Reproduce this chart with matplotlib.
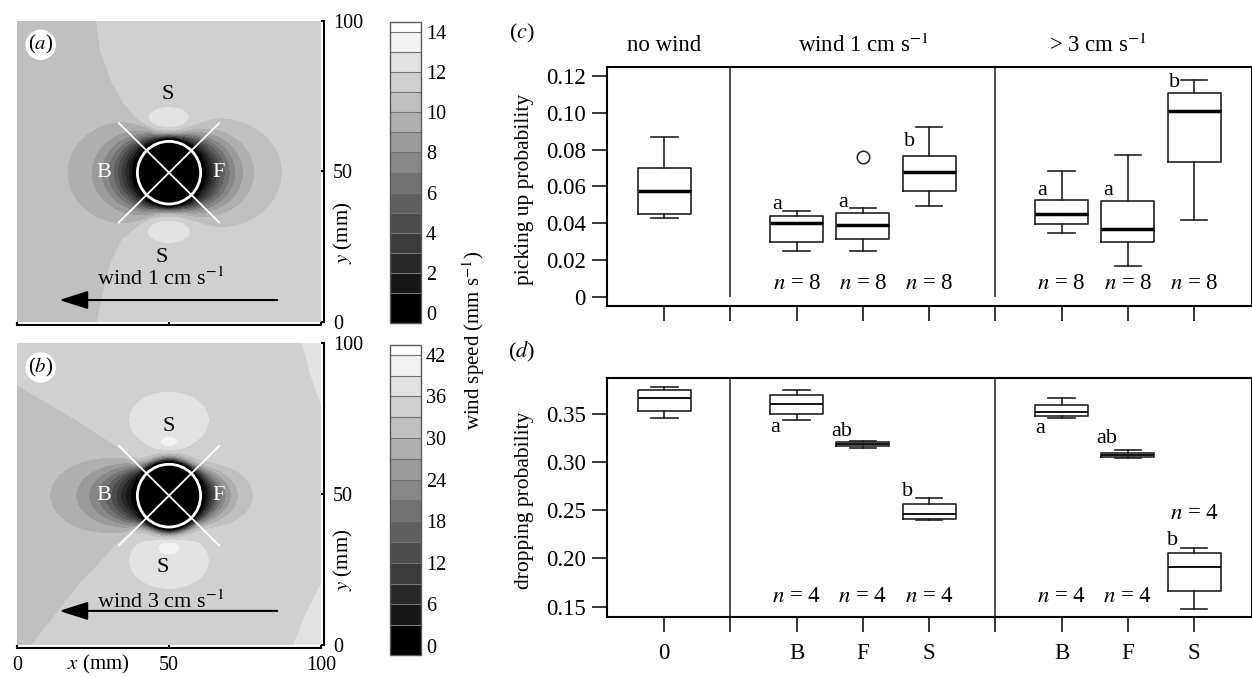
import numpy as np
import matplotlib
matplotlib.use("Agg")
import matplotlib.pyplot as plt
from matplotlib.patches import Circle

plt.rcParams["font.family"] = ["Liberation Serif", "DejaVu Serif"]
plt.rcParams["mathtext.fontset"] = "stix"

# ---- panels (a), (b): wind speed maps (feature positions, mm) ----
centre = (50.0, 49.5)
radius = 10.4

lev_a = [-0.5] + list(range(1, 15)) + [14.5]
lev_b = [-1.3] + list(range(3, 43, 3)) + [43.4]
band_gray = [0, 22, 40, 58, 75, 95, 115, 135, 155, 175, 192, 208, 226, 242, 255]
ticks_a = [0, 2, 4, 6, 8, 10, 12, 14]
ticks_b = [0, 6, 12, 18, 24, 30, 36, 42]

# background speed, wake deficit, front/back/side decay lengths
field_a = dict(u_bg=11.3, wake=1.0, lx_back=10.5, lx_front=12.0, ly=2.0, n=2.2,
               lobe_y=[67.3, 30.2], lobe_w=(7.5, 4.2), lobe_amp=1.6,
               spot_y=[], spot_w=(4, 2.2), spot_amp=0.0, strip=0.0)
field_b = dict(u_bg=34.5, wake=3.0, lx_back=15.0, lx_front=8.6, ly=2.0, n=6,
               lobe_y=[74.5, 28.0], lobe_w=(14.0, 10.0), lobe_amp=3.5,
               spot_y=[67.0, 32.6], spot_w=(4.0, 2.2), spot_amp=3.8, strip=3.0)
# wake boundary (x of edge for each y)
wake_a_y = [0, 10, 20, 27, 32, 35, 50, 64, 67, 72, 80, 90, 100]
wake_a_x = [26, 28, 30.5, 34, 40, 45, 46, 45, 40, 35, 30.6, 27, 25.6]
wake_b_y = [0, 20, 37, 50, 63.5, 75, 85.7, 100]
wake_b_x = [5, 20.5, 37, 40, 37, 19, 1, -20]
strip_b_y = [0, 10, 20, 25, 75, 80, 90, 100]
strip_b_x = [91, 95, 100, 105, 105, 100, 96.5, 94]

# ---- panels (c), (d): box plots ----
box_pos = [1, 3, 4, 5, 7, 8, 9]
xtick_pos = [1, 2, 3, 4, 5, 6, 7, 8, 9]
xtick_lab = ["0", "", "B", "F", "S", "", "B", "F", "S"]
dividers = [2, 6]

pick_whislo = [0.0427, 0.0250, 0.0248, 0.0491, 0.0349, 0.0167, 0.0416]
pick_q1 = [0.0451, 0.0295, 0.0315, 0.0575, 0.0396, 0.0296, 0.0730]
pick_med = [0.0574, 0.0402, 0.0388, 0.0678, 0.0452, 0.0371, 0.1007]
pick_q3 = [0.0700, 0.0440, 0.0455, 0.0767, 0.0525, 0.0520, 0.1106]
pick_whishi = [0.0866, 0.0468, 0.0480, 0.0923, 0.0685, 0.0771, 0.1176]
pick_fliers = [[], [], [0.0761], [], [], [], []]
pick_letters = ["", "a", "a", "b", "a", "a", "b"]
pick_letter_y = [0, 0.050, 0.051, 0.0845, 0.058, 0.058, 0.1163]
pick_n = ["", "8", "8", "8", "8", "8", "8"]
pick_n_y = [0, 0.0073, 0.0073, 0.0073, 0.0073, 0.0073, 0.0073]

drop_whislo = [0.3454, 0.3437, 0.3143, 0.2396, 0.3457, 0.3039, 0.1479]
drop_q1 = [0.3533, 0.3502, 0.3167, 0.2413, 0.3478, 0.3056, 0.1660]
drop_med = [0.3662, 0.3606, 0.3188, 0.2465, 0.3520, 0.3077, 0.1915]
drop_q3 = [0.3745, 0.3693, 0.3205, 0.2565, 0.3595, 0.3098, 0.2054]
drop_whishi = [0.3776, 0.3748, 0.3216, 0.2631, 0.3665, 0.3122, 0.2112]
drop_letters = ["", "a", "ab", "b", "a", "ab", "b"]
drop_letter_y = [0, 0.3361, 0.3316, 0.2693, 0.335, 0.3247, 0.2185]
drop_n = ["", "4", "4", "4", "4", "4", "4"]
drop_n_y = [0, 0.1604, 0.1604, 0.1604, 0.1604, 0.1604, 0.2469]

headers = ["no wind", "wind 1 cm s$^{-1}$", "> 3 cm s$^{-1}$"]
header_x = [1.0, 4.0, 7.55]

W, H = 1252, 677


def fig_rect(x0, y0, x1, y1):
    return [x0 / W, 1 - y1 / H, (x1 - x0) / W, (y1 - y0) / H]


def wind_field(X, Y, p, wake_y, wake_x):
    dx = X - centre[0]
    dy = Y - centre[1]
    r = np.hypot(dx, dy) + 1e-9
    cos_t = np.abs(dx) / r
    lx = np.where(dx < 0, p["lx_back"], p["lx_front"])
    L = p["ly"] + (lx - p["ly"]) * cos_t ** p["n"]
    s = r - radius
    f = np.tanh(np.clip(s - 1.0, 0, None) / L)
    xb = np.interp(Y, wake_y, wake_x)
    base = p["u_bg"] - p["wake"] / (1 + np.exp((X - xb) / 0.6))
    for ly in p["lobe_y"]:
        base = base + p["lobe_amp"] * np.exp(-((X - centre[0]) / p["lobe_w"][0]) ** 2
                                             - ((Y - ly) / p["lobe_w"][1]) ** 2)
    for ly in p["spot_y"]:
        base = base + p["spot_amp"] * np.exp(-((X - centre[0]) / p["spot_w"][0]) ** 2
                                             - ((Y - ly) / p["spot_w"][1]) ** 2)
    if p["strip"]:
        xs = np.interp(Y, strip_b_y, strip_b_x)
        base = base + p["strip"] / (1 + np.exp((xs - X) / 0.6))
    return base * f


fig = plt.figure(figsize=(12.52, 6.77), dpi=100)

g = np.linspace(0, 100, 500)
X, Y = np.meshgrid(g, g)
band_colors = [str(v / 255) for v in band_gray]

maps = [
    (fig_rect(17, 20.7, 321, 321.7), field_a, wake_a_y, wake_a_x, lev_a, ticks_a,
     fig_rect(390, 21.7, 420.5, 323.3), "($a$)", "wind 1 cm s$^{-1}$", 7.2,
     [(49.5, 75.5), (47.6, 21.2)], 233),
    (fig_rect(17, 343.3, 321, 645), field_b, wake_b_y, wake_b_x, lev_b, ticks_b,
     fig_rect(390, 345, 420.5, 655), "($b$)", "wind 3 cm s$^{-1}$", 11.3,
     [(49.8, 72.4), (47.8, 25.8)], 560),
]

for i, (rect, p, wy, wx, lev, cticks, crect, tag, wtxt, arrow_y, s_pos, ylab_y) in enumerate(maps):
    ax = fig.add_axes(rect)
    Z = wind_field(X, Y, p, wy, wx)
    Z = np.clip(Z, lev[0] + 1e-3, lev[-1] - 1e-3)
    cs = ax.contourf(X, Y, Z, levels=lev, colors=band_colors)
    ax.set_xlim(0, 100)
    ax.set_ylim(0, 100)
    for sp in ["top", "left"]:
        ax.spines[sp].set_visible(False)
    for sp in ["right", "bottom"]:
        ax.spines[sp].set_position(("outward", 2.5))
        ax.spines[sp].set_linewidth(1.5)
    ax.yaxis.tick_right()
    ax.set_yticks([0, 50, 100])
    ax.set_xticks([0, 50, 100])
    ax.tick_params(direction="in", length=2.5, width=1.5, labelsize=14.5)
    ax.tick_params(axis="y", pad=6)
    ax.tick_params(axis="x", pad=5.5)
    if i == 0:
        ax.tick_params(axis="x", labelbottom=False)

    ax.add_patch(Circle(centre, radius, fill=False, ec="white", lw=2))
    d = 16.5
    ax.plot([centre[0] - d, centre[0] + d], [centre[1] - d, centre[1] + d], color="white", lw=1.3)
    ax.plot([centre[0] - d, centre[0] + d], [centre[1] + d, centre[1] - d], color="white", lw=1.3)
    ax.text(28.4, 49.5, "B", color="white", fontsize=16, ha="center", va="center")
    ax.text(66.2, 49.5, "F", color="white", fontsize=16, ha="center", va="center")
    for sx, sy in s_pos:
        ax.text(sx, sy, "S", fontsize=16, ha="center", va="center")
    ax.text(47.3, 14.3, wtxt, fontsize=16, ha="center", va="center")
    ax.annotate("", xy=(13, arrow_y), xytext=(86.5, arrow_y),
                arrowprops=dict(arrowstyle="-|>,head_length=1.1,head_width=0.35",
                                mutation_scale=16, lw=1.5, color="black"))
    ax.text(7.8, 92.0, tag, fontsize=15, ha="center", va="center",
            bbox=dict(boxstyle="circle,pad=0.12", fc="white", ec="none"))
    fig.text(343 / W, 1 - ylab_y / H, "$y$ (mm)", rotation=90, fontsize=15,
             ha="center", va="center")

    cax = fig.add_axes(crect)
    cb = fig.colorbar(cs, cax=cax, spacing="proportional", ticks=cticks, drawedges=True)
    cb.dividers.set_color("0.45")
    cb.dividers.set_linewidth(0.8)
    cb.outline.set_edgecolor("0.35")
    cb.outline.set_linewidth(1.0)
    cb.ax.tick_params(length=0, pad=4, labelsize=14.5)

fig.text(98 / W, 1 - 664 / H, "$x$ (mm)", fontsize=15, ha="center", va="center")
fig.text(474 / W, 1 - 340 / H, "wind speed (mm s$^{-1}$)", rotation=90, fontsize=15,
         ha="center", va="center")


# ---- box plot panels ----
def box_panel(rect, whislo, q1, med, q3, whishi, fliers, med_lw):
    ax = fig.add_axes(rect)
    stats = []
    for k in range(len(box_pos)):
        stats.append(dict(whislo=whislo[k], q1=q1[k], med=med[k], q3=q3[k],
                          whishi=whishi[k], fliers=fliers[k]))
    line = dict(color="#222222", lw=1.2)
    ax.bxp(stats, positions=box_pos, widths=0.8, capwidths=0.4,
           boxprops=line, whiskerprops=line, capprops=line,
           medianprops=dict(color="black", lw=med_lw),
           flierprops=dict(marker="o", mfc="none", mec="#222222", ms=9, mew=1.1))
    ax.set_xlim(0.14, 9.87)
    ax.set_xticks(xtick_pos)
    for sp in ax.spines.values():
        sp.set_linewidth(1.5)
    ax.tick_params(direction="out", length=10.5, width=1.1, labelsize=16.5, pad=5)
    return ax


ax_c = box_panel(fig_rect(607.3, 66.7, 1251.7, 306), pick_whislo, pick_q1, pick_med,
                 pick_q3, pick_whishi, pick_fliers, 2.5)
ax_c.set_ylim(-0.005, 0.125)
ax_c.set_yticks([0, 0.02, 0.04, 0.06, 0.08, 0.10, 0.12])
ax_c.set_yticklabels(["0", "0.02", "0.04", "0.06", "0.08", "0.10", "0.12"])
ax_c.set_xticklabels([])
ax_c.vlines(dividers, 0, 0.125, color="#333333", lw=1.2)
for txt, hx in zip(headers, header_x):
    ax_c.text(hx, 1.09, txt, transform=ax_c.get_xaxis_transform(), fontsize=16.5,
              ha="center", va="center")
for k, xp in enumerate(box_pos):
    if pick_letters[k]:
        ax_c.text(xp - 0.3, pick_letter_y[k], pick_letters[k], fontsize=16,
                  ha="center", va="center")
    if pick_n[k]:
        ax_c.text(xp, pick_n_y[k], "$n$ = " + pick_n[k], fontsize=16.5, ha="center", va="center")

ax_d = box_panel(fig_rect(607.3, 378.3, 1251.7, 617.3), drop_whislo, drop_q1, drop_med,
                 drop_q3, drop_whishi, [[] for _ in box_pos], 1.3)
ax_d.set_ylim(0.139, 0.3869)
ax_d.set_yticks([0.15, 0.20, 0.25, 0.30, 0.35])
ax_d.set_yticklabels(["0.15", "0.20", "0.25", "0.30", "0.35"])
ax_d.set_xticklabels(xtick_lab)
ax_d.tick_params(axis="x", pad=8)
ax_d.axvline(dividers[0], color="#333333", lw=1.2)
ax_d.axvline(dividers[1], color="#333333", lw=1.2)
for k, xp in enumerate(box_pos):
    if drop_letters[k]:
        ax_d.text(xp - 0.32, drop_letter_y[k], drop_letters[k], fontsize=16,
                  ha="center", va="center")
    if drop_n[k]:
        ax_d.text(xp, drop_n_y[k], "$n$ = " + drop_n[k], fontsize=16.5, ha="center", va="center")

fig.text(525 / W, 1 - 189 / H, "picking up probability", rotation=90, fontsize=15.5,
         ha="center", va="center")
fig.text(524 / W, 1 - 500 / H, "dropping probability", rotation=90, fontsize=15.5,
         ha="center", va="center")
fig.text(521.7 / W, 1 - 33.3 / H, "($c$)", fontsize=16, ha="center", va="center")
fig.text(521.7 / W, 1 - 351.7 / H, "($d$)", fontsize=16, ha="center", va="center")

fig.savefig("out.png", dpi=100)
